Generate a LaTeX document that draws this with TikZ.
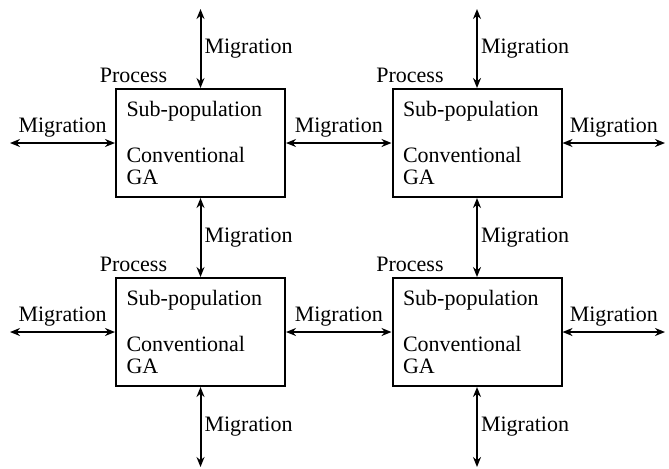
\documentclass[tikz,border=0pt]{standalone}
\usepackage{fontspec}
\setmainfont{LiberationSerif}[Extension=.ttf,UprightFont=*-Regular,BoldFont=*-Bold,ItalicFont=*-Italic,BoldItalicFont=*-BoldItalic]
\usetikzlibrary{arrows.meta}
\tikzset{
  pop/.style={draw,line width=1pt,minimum width=84.5pt,minimum height=54pt,inner sep=0pt,align=left,text width=74pt,font=\rmfamily\fontsize{11}{11}\selectfont},
  proc/.style={anchor=south,inner sep=2.5pt,font=\rmfamily\fontsize{11}{13}\selectfont},
  lab/.style={inner sep=1.5pt,font=\rmfamily\fontsize{11}{13}\selectfont},
  laba/.style={inner sep=2.6pt,font=\rmfamily\fontsize{11}{13}\selectfont},
  mig/.style={{Stealth[length=5pt,width=4pt]}-{Stealth[length=5pt,width=4pt]},line width=1pt}
}
\begin{document}
\begin{tikzpicture}[x=0.5pt,y=-0.5pt]
\useasboundingbox (0,0) rectangle (669,468);
% the four sub-populations
\foreach \nm/\cx/\cy in {tl/200.5/143,tr/477/143,bl/200.5/332,br/477/332}{
  \node[pop] (\nm) at (\cx,\cy) {Sub-population\\[12pt]Conventional\\GA};
  \node[proc] (\nm p) at ([xshift=9.25pt]\nm.north west) {Process};
}
% free ends of the outer migrations
\coordinate (tlu) at (200.5,9);
\coordinate (tru) at (477,9);
\coordinate (bld) at (200.5,467);
\coordinate (brd) at (477,467);
\coordinate (tll) at (10,143);
\coordinate (bll) at (10,332);
\coordinate (trr) at (665,143);
\coordinate (brr) at (665,332);
% vertical migrations
\draw[mig] (tlu) -- (tl) node[lab,right,midway]{Migration};
\draw[mig] (tru) -- (tr) node[lab,right,midway]{Migration};
\draw[mig] (tl) -- (bl) node[lab,right,midway]{Migration};
\draw[mig] (tr) -- (br) node[lab,right,midway]{Migration};
\draw[mig] (bl) -- (bld) node[lab,right,midway]{Migration};
\draw[mig] (br) -- (brd) node[lab,right,midway]{Migration};
% horizontal migrations
\draw[mig] (tll) -- (tl) node[laba,above,midway]{Migration};
\draw[mig] (tl) -- (tr) node[laba,above,midway]{Migration};
\draw[mig] (tr) -- (trr) node[laba,above,midway]{Migration};
\draw[mig] (bll) -- (bl) node[laba,above,midway]{Migration};
\draw[mig] (bl) -- (br) node[laba,above,midway]{Migration};
\draw[mig] (br) -- (brr) node[laba,above,midway]{Migration};
\end{tikzpicture}
\end{document}
